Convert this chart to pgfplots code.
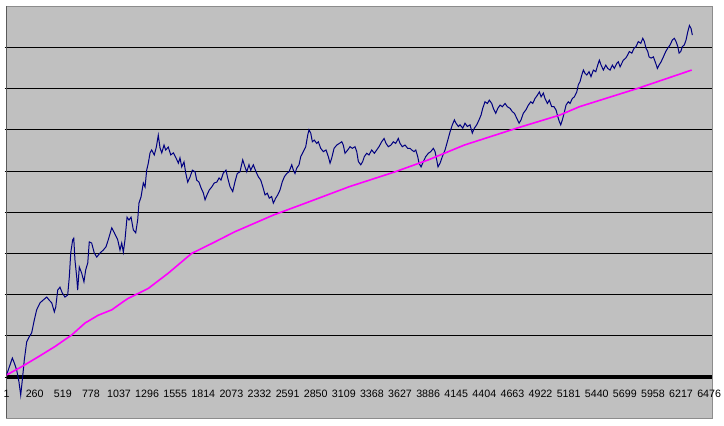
\documentclass[border=0pt]{standalone}
\usepackage{pgfplots}
\pgfplotsset{compat=1.18}
\usepackage{fontspec}
\setmainfont{Liberation Sans}
\definecolor{plotgray}{RGB}{192,192,192}
\definecolor{navyline}{RGB}{0,0,128}
\definecolor{magline}{RGB}{255,0,255}
\begin{document}
\fontsize{10.67bp}{12bp}\selectfont
\begin{tikzpicture}
\begin{axis}[
  scale only axis,
  width=705.7bp, height=412bp,
  xmin=1, xmax=6505, ymin=-1, ymax=9,
  axis background/.style={fill=plotgray},
  axis line style={draw=black!45},
  xtick={1,260,519,778,1037,1296,1555,1814,2073,2332,2591,2850,3109,3368,3627,3886,4145,4404,4663,4922,5181,5440,5699,5958,6217,6476},
  xticklabels={1,260,519,778,1037,1296,1555,1814,2073,2332,2591,2850,3109,3368,3627,3886,4145,4404,4663,4922,5181,5440,5699,5958,6217,6476},
  scaled x ticks=false, scaled y ticks=false,
  /pgf/number format/1000 sep={},
  /pgf/number format/assume math mode=true,
  xtick style={draw=none},
  xticklabel style={font=\fontsize{10.67bp}{12bp}\selectfont, yshift=34bp},
  ytick={1,2,3,4,5,6,7,8},
  yticklabels={},
  ytick pos=left,
  tick align=outside,
  major tick length=2bp,
  ytick style={draw=black, line width=0.8bp},
  ymajorgrids,
  grid style={draw=black, line width=0.8bp},
  extra y ticks={0},
  extra y tick labels={},
  extra y tick style={grid style={draw=black, line width=3.5bp}, tick style={draw=none}},
  clip=true,
]
\addplot[navyline, line width=1bp] coordinates {
(1,0.05)(32,0.29)(54,0.46)(72,0.34)(94,0.17)(115,-0.12)(131,-0.44)(146,-0.07)(164,0.41)(186,0.85)
(208,0.97)(232,1.07)(256,1.38)(278,1.63)(309,1.80)(339,1.87)(371,1.94)(392,1.87)(417,1.80)(441,1.58)
(454,1.70)(472,2.11)(493,2.18)(514,2.04)(539,1.94)(564,1.99)(579,2.43)(592,3.01)(610,3.33)(620,3.37)
(631,2.84)(647,2.43)(656,2.11)(671,2.67)(693,2.52)(714,2.31)(730,2.60)(749,2.77)(763,3.28)(785,3.25)
(809,3.01)(832,2.91)(862,3.01)(892,3.08)(917,3.16)(938,3.33)(970,3.62)(994,3.50)(1025,3.33)(1046,3.08)
(1062,3.25)(1077,3.03)(1092,3.33)(1111,3.88)(1129,3.81)(1148,3.88)(1169,3.57)(1191,3.50)(1209,3.81)(1221,4.22)
(1240,4.37)(1261,4.71)(1277,4.61)(1292,5.02)(1307,5.19)(1323,5.44)(1338,5.51)(1362,5.39)(1381,5.58)(1399,5.87)
(1415,5.56)(1431,5.44)(1452,5.63)(1467,5.51)(1491,5.58)(1514,5.39)(1538,5.44)(1562,5.32)(1584,5.19)(1599,5.32)
(1615,5.10)(1636,5.22)(1652,4.95)(1670,4.73)(1691,4.85)(1713,5.02)(1738,4.98)(1753,4.78)(1774,4.73)(1793,4.59)
(1814,4.47)(1830,4.30)(1848,4.42)(1869,4.54)(1891,4.61)(1915,4.71)(1938,4.73)(1959,4.83)(1977,4.78)(1998,4.95)
(2023,5.02)(2039,4.83)(2060,4.62)(2085,4.50)(2106,4.74)(2127,4.94)(2152,4.98)(2177,5.27)(2198,5.10)(2214,4.98)
(2235,5.15)(2251,5.02)(2275,5.15)(2300,4.98)(2321,4.86)(2343,4.78)(2362,4.62)(2383,4.42)(2404,4.46)(2422,4.34)
(2444,4.38)(2459,4.22)(2481,4.34)(2500,4.42)(2521,4.54)(2542,4.74)(2561,4.86)(2583,4.94)(2604,4.98)(2629,5.15)
(2644,5.02)(2659,4.94)(2675,5.07)(2696,5.15)(2712,5.35)(2736,5.47)(2758,5.59)(2776,5.87)(2788,6.00)(2804,5.92)
(2819,5.71)(2837,5.75)(2859,5.67)(2874,5.71)(2896,5.55)(2920,5.47)(2945,5.51)(2966,5.35)(2982,5.19)(2997,5.31)
(3019,5.55)(3044,5.63)(3068,5.67)(3090,5.71)(3104,5.63)(3120,5.43)(3145,5.51)(3166,5.59)(3187,5.55)(3212,5.59)
(3228,5.47)(3243,5.23)(3265,5.15)(3283,5.23)(3298,5.35)(3320,5.43)(3341,5.39)(3366,5.51)(3390,5.43)(3412,5.51)
(3433,5.59)(3458,5.71)(3480,5.79)(3498,5.67)(3519,5.59)(3544,5.63)(3565,5.71)(3587,5.67)(3611,5.79)(3627,5.67)
(3648,5.59)(3673,5.63)(3698,5.55)(3719,5.55)(3735,5.51)(3756,5.47)(3772,5.51)(3790,5.35)(3802,5.19)(3821,5.10)
(3842,5.23)(3864,5.35)(3888,5.43)(3910,5.47)(3934,5.55)(3950,5.47)(3965,5.27)(3977,5.10)(3996,5.19)(4017,5.35)
(4042,5.51)(4063,5.71)(4088,5.95)(4109,6.12)(4128,6.24)(4143,6.16)(4164,6.08)(4180,6.12)(4205,6.04)(4226,6.16)
(4247,6.08)(4272,6.12)(4293,5.92)(4312,6.04)(4334,6.12)(4355,6.24)(4374,6.36)(4389,6.52)(4410,6.68)(4432,6.64)
(4450,6.72)(4472,6.64)(4487,6.52)(4509,6.40)(4528,6.52)(4549,6.60)(4570,6.56)(4595,6.64)(4616,6.56)(4641,6.52)
(4662,6.44)(4681,6.40)(4703,6.28)(4724,6.16)(4742,6.24)(4763,6.40)(4786,6.48)(4810,6.60)(4832,6.68)(4850,6.64)
(4871,6.76)(4893,6.84)(4911,6.92)(4927,6.80)(4948,6.89)(4963,6.76)(4985,6.64)(5003,6.72)(5025,6.56)(5046,6.56)
(5065,6.48)(5081,6.32)(5095,6.20)(5108,6.12)(5123,6.24)(5139,6.40)(5157,6.60)(5178,6.68)(5194,6.64)(5215,6.76)
(5234,6.80)(5256,6.92)(5270,7.09)(5286,7.17)(5302,7.33)(5317,7.45)(5332,7.37)(5348,7.33)(5369,7.41)(5387,7.29)
(5409,7.45)(5431,7.41)(5449,7.57)(5464,7.69)(5480,7.57)(5501,7.45)(5523,7.57)(5541,7.49)(5563,7.45)(5584,7.57)
(5602,7.49)(5624,7.61)(5639,7.65)(5655,7.53)(5670,7.61)(5685,7.69)(5707,7.74)(5726,7.82)(5740,7.90)(5763,7.86)
(5784,7.98)(5802,8.02)(5823,8.14)(5846,8.10)(5864,8.22)(5879,8.14)(5894,7.98)(5910,7.90)(5922,7.77)(5941,7.74)
(5962,7.77)(5984,7.61)(5999,7.49)(6014,7.57)(6033,7.65)(6054,7.77)(6076,7.90)(6094,7.98)(6116,8.06)(6137,8.18)
(6155,8.22)(6171,8.14)(6187,8.02)(6199,7.86)(6214,7.90)(6229,8.02)(6247,8.06)(6263,8.18)(6279,8.38)(6294,8.53)
(6309,8.46)(6321,8.30)
};
\addplot[magline, line width=1.6bp] coordinates {
(1,0.05)(140,0.25)(293,0.49)(447,0.74)(601,1.02)(724,1.31)(846,1.50)(970,1.63)(1077,1.83)(1123,1.91)
(1307,2.15)(1491,2.52)(1707,3.00)(1922,3.28)(2100,3.52)(2459,3.93)(2705,4.17)(3160,4.62)(3581,4.98)(3888,5.27)
(4220,5.63)(4703,6.04)(5102,6.36)(5280,6.56)(5823,7.01)(6315,7.45)
};
\draw[black, line width=0.8bp] (rel axis cs:0,0) -- (rel axis cs:0,1);
\end{axis}
\pgfresetboundingbox
\path[use as bounding box] (-6.6bp,-7.8bp) rectangle (717.4bp,418.2bp);
\end{tikzpicture}
\end{document}
